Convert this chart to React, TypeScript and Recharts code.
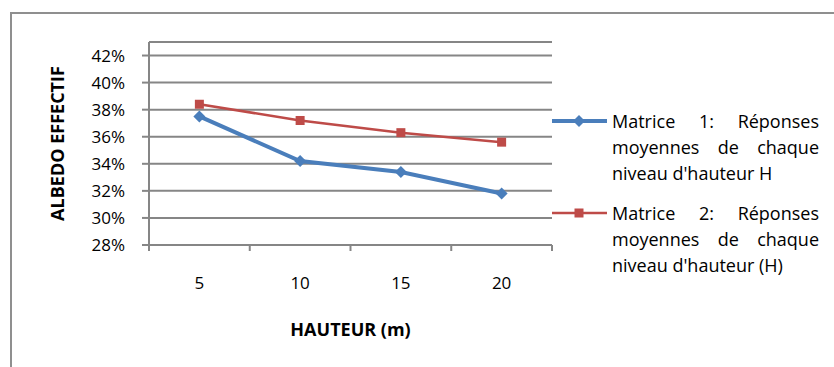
import { LineChart, Line, XAxis, YAxis, CartesianGrid, Legend } from "recharts";

// hauteurs (m)
const heights = [5, 10, 15, 20];
const matrice1 = [0.375, 0.342, 0.334, 0.318];
const matrice2 = [0.384, 0.372, 0.363, 0.356];

const yTicks = [0.28, 0.3, 0.32, 0.34, 0.36, 0.38, 0.4, 0.42];
const xTicks = [2.5, 5, 7.5, 10, 12.5, 15, 17.5, 20, 22.5];

const legendLines: Record<string, string[]> = {
  m1: ["Matrice 1: Réponses", "moyennes de chaque", "niveau d'hauteur H"],
  m2: ["Matrice 2: Réponses", "moyennes de chaque", "niveau d'hauteur (H)"],
};

const data = heights.map((h, i) => ({ h, m1: matrice1[i], m2: matrice2[i] }));

const BLUE = "#4a7ebb";
const RED = "#be4b48";
const GRID = "#868686";
const FONT = "'Open Sans', Lato, sans-serif";

const Diamond = (props: any) => {
  const { cx, cy } = props;
  if (cx == null || cy == null) return null;
  return <polygon points={`${cx},${cy - 6} ${cx + 6},${cy} ${cx},${cy + 6} ${cx - 6},${cy}`} fill={BLUE} />;
};

const Square = (props: any) => {
  const { cx, cy } = props;
  if (cx == null || cy == null) return null;
  return <rect x={cx - 4.5} y={cy - 4.5} width={9} height={9} fill={RED} />;
};

const XTick = (props: any) => {
  const { x, y, payload } = props;
  if (payload.value % 5 !== 0) {
    return <line x1={x} x2={x} y1={y} y2={y + 6} stroke={GRID} strokeWidth={2} />;
  }
  return (
    <text x={x} y={y + 37} textAnchor="middle" dominantBaseline="central" fontSize={17} fill="#000">
      {payload.value}
    </text>
  );
};

const XTitle = (props: any) => {
  const vb = props.viewBox ?? { x: 0, y: 0, width: 0 };
  return (
    <text x={vb.x + vb.width / 2} y={vb.y + 84} textAnchor="middle" dominantBaseline="central"
      fontSize={18} fontWeight="bold" fill="#000">
      HAUTEUR (m)
    </text>
  );
};

const YTitle = (props: any) => {
  const vb = props.viewBox ?? { x: 0, y: 0, height: 0 };
  const cy = vb.y + vb.height / 2;
  return (
    <text x={57} y={cy} transform={`rotate(-90, 57, ${cy})`} textAnchor="middle" dominantBaseline="central"
      fontSize={18} fontWeight="bold" fill="#000">
      ALBEDO EFFECTIF
    </text>
  );
};

const LegendBox = (props: any) => {
  const { payload } = props;
  return (
    <div style={{ fontFamily: FONT, fontSize: 18, color: "#000" }}>
      {(payload || []).map((entry: any, i: number) => {
        const lines = legendLines[entry.dataKey] || [String(entry.value)];
        const isBlue = entry.dataKey === "m1";
        return (
          <div key={i} style={{ display: "flex", marginBottom: 14 }}>
            <svg width={60} height={26} style={{ flex: "none" }}>
              <line x1={0} x2={55} y1={13} y2={13} stroke={entry.color} strokeWidth={isBlue ? 4 : 2.5} />
              {isBlue ? (
                <polygon points="27,7 33,13 27,19 21,13" fill={BLUE} />
              ) : (
                <rect x={22.5} y={8.5} width={9} height={9} fill={RED} />
              )}
            </svg>
            <div style={{ width: 207 }}>
              {lines.map((ln, j) => (
                <div key={j} style={{
                  height: 26, lineHeight: "26px", display: "flex",
                  justifyContent: j < lines.length - 1 ? "space-between" : "flex-start",
                  whiteSpace: "pre",
                }}>
                  {j < lines.length - 1
                    ? ln.split(" ").map((w, k) => <span key={k}>{w}</span>)
                    : <span>{ln}</span>}
                </div>
              ))}
            </div>
          </div>
        );
      })}
    </div>
  );
};

export default function App() {
  return (
    <div style={{ position: "absolute", left: 0, top: 0, width: 834, height: 367, background: "#fff" }}>
      <div style={{
        position: "absolute", left: 10, top: 12, right: 0, bottom: 0,
        borderLeft: "2px solid #8f8f8f", borderTop: "2px solid #8f8f8f",
      }} />
      <LineChart width={834} height={367} data={data}
        margin={{ top: 42, right: 7, bottom: 62, left: 0 }}
        style={{ fontFamily: FONT }}>
        <CartesianGrid vertical={false} stroke={GRID} strokeWidth={2} />
        <XAxis dataKey="h" type="number" domain={[2.5, 22.5]} ticks={xTicks} interval={0}
          height={60} tickSize={0} tickMargin={0} tickLine={false}
          axisLine={{ stroke: GRID, strokeWidth: 2 }} tick={<XTick />} label={XTitle} />
        <YAxis type="number" domain={[0.28, 0.43]} ticks={yTicks} interval={0} width={149}
          tickSize={7} tickMargin={17} tickLine={{ stroke: GRID, strokeWidth: 2 }}
          axisLine={{ stroke: GRID, strokeWidth: 2 }}
          tick={{ fontSize: 17, fill: "#000" }}
          tickFormatter={(v: number) => `${Math.round(v * 100)}%`} label={YTitle} />
        <Line dataKey="m1" name="Matrice 1" stroke={BLUE} strokeWidth={4} dot={<Diamond />}
          activeDot={false} isAnimationActive={false} />
        <Line dataKey="m2" name="Matrice 2" stroke={RED} strokeWidth={2.5} dot={<Square />}
          activeDot={false} isAnimationActive={false} />
        <Legend layout="vertical" align="right" verticalAlign="middle" content={<LegendBox />}
          wrapperStyle={{ position: "absolute", left: 552, top: 108, width: 275 }} />
      </LineChart>
    </div>
  );
}
